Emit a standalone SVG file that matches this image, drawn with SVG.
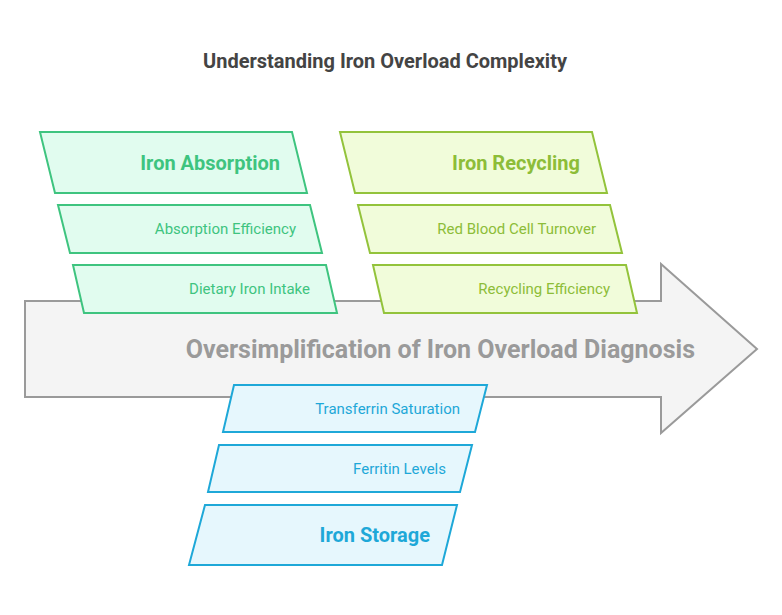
<svg xmlns="http://www.w3.org/2000/svg" width="782" height="615" viewBox="0 0 782 615">
<style>
text{font-family:Roboto,"Liberation Sans",sans-serif;}
.title{font-size:20px;font-weight:bold;fill:#444444;text-anchor:middle;dominant-baseline:central;}
.main{font-size:25px;font-weight:bold;fill:#9a9a9a;text-anchor:end;dominant-baseline:central;}
.h{font-size:20px;font-weight:bold;text-anchor:end;dominant-baseline:central;}
.s{font-size:15px;text-anchor:end;dominant-baseline:central;}
.g polygon{fill:#e1fcef;stroke:#3ec47f;stroke-width:2;}
.g text{fill:#3ec47f;}
.y polygon{fill:#f1fcda;stroke:#93c33b;stroke-width:2;}
.y text{fill:#8dbd38;}
.b polygon{fill:#e6f7fd;stroke:#1ea8d8;stroke-width:2;}
.b text{fill:#1ea8d8;}
</style>
<rect width="782" height="615" fill="#ffffff"/>
<text class="title" x="385" y="61">Understanding Iron Overload Complexity</text>
<g id="spine">
<path d="M25,301 H661 V264 L757,349 L661,433 V397 H25 Z" fill="#f4f4f4" stroke="#9a9a9a" stroke-width="2"/>
<text class="main" x="695" y="349">Oversimplification of Iron Overload Diagnosis</text>
</g>
<g id="connectors"></g>
<g id="iron-absorption" class="g">
<polygon points="40,132 292,132 307,193 55,193"/>
<text class="h" x="280" y="163">Iron Absorption</text>
</g>
<g id="absorption-efficiency" class="g">
<polygon points="58,205 310,205 322,253 70,253"/>
<text class="s" x="296" y="229">Absorption Efficiency</text>
</g>
<g id="dietary-iron-intake" class="g">
<polygon points="73,265 326,265 337,313 84,313"/>
<text class="s" x="310" y="289">Dietary Iron Intake</text>
</g>
<g id="iron-recycling" class="y">
<polygon points="340,132 592,132 607,193 355,193"/>
<text class="h" x="580" y="163">Iron Recycling</text>
</g>
<g id="red-blood-cell-turnover" class="y">
<polygon points="358,205 610,205 622,253 370,253"/>
<text class="s" x="596" y="229">Red Blood Cell Turnover</text>
</g>
<g id="recycling-efficiency" class="y">
<polygon points="373,265 626,265 637,313 384,313"/>
<text class="s" x="610" y="289">Recycling Efficiency</text>
</g>
<g id="transferrin-saturation" class="b">
<polygon points="234,385 487,385 475,432 223,432"/>
<text class="s" x="460" y="409">Transferrin Saturation</text>
</g>
<g id="ferritin-levels" class="b">
<polygon points="219,445 472,445 460,492 208,492"/>
<text class="s" x="446" y="469">Ferritin Levels</text>
</g>
<g id="iron-storage" class="b">
<polygon points="205,505 457,505 442,565 189,565"/>
<text class="h" x="430" y="535">Iron Storage</text>
</g>
</svg>
